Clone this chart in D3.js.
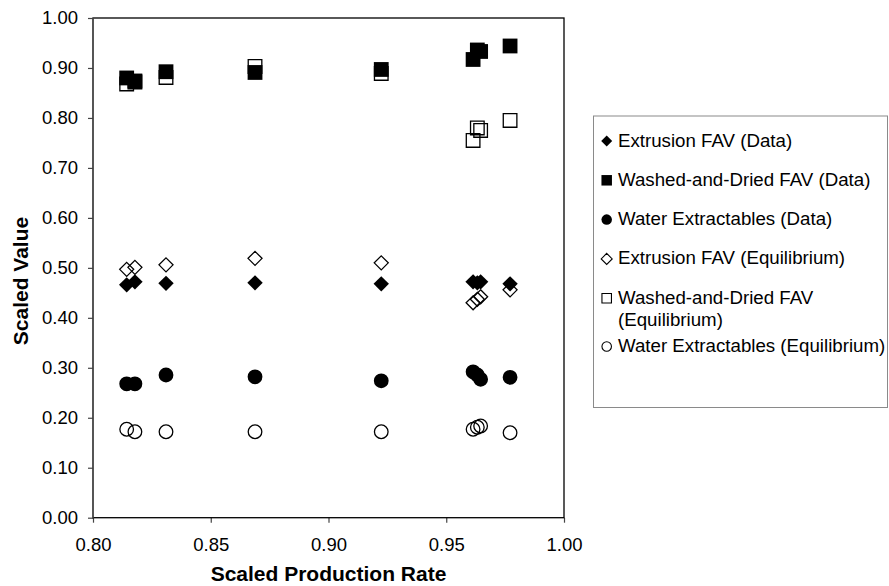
<!DOCTYPE html>
<html>
<head>
<meta charset="utf-8">
<script src="https://cdn.jsdelivr.net/npm/d3@7"></script>
<style>
  body { margin: 0; background: #fff; }
  svg { display: block; font-family: "Liberation Sans", Arial, sans-serif; }
</style>
</head>
<body>
<svg id="chart" width="889" height="586"></svg>
<script>
// scaled production rate for each run
var xValues = [0.8143, 0.8178, 0.8310, 0.8688, 0.9224, 0.9614, 0.9632, 0.9646, 0.9771]

var extrusionData = [0.466, 0.472, 0.469, 0.470, 0.468, 0.472, 0.470, 0.472, 0.468]
var washedData = [0.880, 0.874, 0.8925, 0.891, 0.897, 0.917, 0.936, 0.933, 0.944]
var waterData = [0.268, 0.268, 0.2856, 0.282, 0.274, 0.292, 0.2856, 0.277, 0.281]
var extrusionEq = [0.497, 0.501, 0.506, 0.519, 0.510, 0.430, 0.437, 0.442, 0.456]
var washedEq = [0.868, 0.872, 0.881, 0.903, 0.889, 0.755, 0.780, 0.775, 0.795]
var waterEq = [0.177, 0.172, 0.172, 0.172, 0.172, 0.177, 0.181, 0.1835, 0.170]

var seriesNames = [
    ["Extrusion FAV (Data)"],
    ["Washed-and-Dried FAV (Data)"],
    ["Water Extractables (Data)"],
    ["Extrusion FAV (Equilibrium)"],
    ["Washed-and-Dried FAV", "(Equilibrium)"],
    ["Water Extractables (Equilibrium)"]
]

var xTicks = [0.80, 0.85, 0.90, 0.95, 1.00]
var yTicks = [0.0, 0.1, 0.2, 0.3, 0.4, 0.5, 0.6, 0.7, 0.8, 0.9, 1.0]

var series = [
    { name: seriesNames[0], values: extrusionData, shape: "diamond", filled: true },
    { name: seriesNames[1], values: washedData, shape: "square", filled: true },
    { name: seriesNames[2], values: waterData, shape: "circle", filled: true },
    { name: seriesNames[3], values: extrusionEq, shape: "diamond", filled: false },
    { name: seriesNames[4], values: washedEq, shape: "square", filled: false },
    { name: seriesNames[5], values: waterEq, shape: "circle", filled: false }
]

var svg = d3.select("#chart")
var plotLeft = 93, plotRight = 564, plotTop = 18, plotBottom = 517.7

var x = d3.scaleLinear().domain([0.8, 1.0]).range([plotLeft, plotRight])
var y = d3.scaleLinear().domain([0, 1]).range([plotBottom, plotTop])

// marker path, centred on 0,0
function markerPath(shape, size) {
    var r = size / 2
    if (shape == "diamond") {
        return "M0," + (-r) + "L" + r + ",0L0," + r + "L" + (-r) + ",0Z"
    }
    if (shape == "square") {
        return "M" + (-r) + "," + (-r) + "h" + size + "v" + size + "h" + (-size) + "Z"
    }
    return d3.arc()({ innerRadius: 0, outerRadius: r, startAngle: 0, endAngle: 2 * Math.PI })
}

// axes
var yAxis = svg.append("g")
    .attr("transform", "translate(" + plotLeft + ",0)")
    .call(d3.axisLeft(y).tickValues(yTicks).tickFormat(d3.format(".2f")).tickSize(5).tickPadding(10))
var xAxis = svg.append("g")
    .attr("transform", "translate(0," + plotBottom + ")")
    .call(d3.axisBottom(x).tickValues(xTicks).tickFormat(d3.format(".2f")).tickSize(5).tickPadding(15))

svg.selectAll(".domain").remove()
svg.selectAll(".tick line").attr("stroke", "#444").attr("stroke-width", 1.2)
svg.selectAll(".tick text")
    .attr("fill", "#000")
    .style("font-size", "18.5px")
    .style("font-family", "'Liberation Sans', Arial, sans-serif")

// plot frame
svg.append("rect")
    .attr("x", plotLeft).attr("y", plotTop)
    .attr("width", plotRight - plotLeft).attr("height", plotBottom - plotTop)
    .attr("fill", "none")
    .attr("stroke", "#000")
    .attr("stroke-width", 1.3)
svg.append("line")
    .attr("x1", plotLeft).attr("x2", plotLeft).attr("y1", plotTop).attr("y2", plotBottom)
    .attr("stroke", "#555").attr("stroke-width", 1.4)

// points
series.forEach(function(s) {
    var size = s.filled ? 14.8 : 13.6
    if (s.shape == "diamond") size = s.filled ? 15.4 : 14
    svg.append("g")
        .selectAll("path")
        .data(s.values)
        .join("path")
        .attr("d", markerPath(s.shape, size))
        .attr("transform", function(d, i) {
            return "translate(" + x(xValues[i]) + "," + y(d) + ")"
        })
        .attr("fill", s.filled ? "#000" : "none")
        .attr("stroke", "#000")
        .attr("stroke-width", s.filled ? 0 : 1.3)
})

// axis titles
svg.append("text")
    .attr("x", (plotLeft + plotRight) / 2)
    .attr("y", 581)
    .attr("text-anchor", "middle")
    .style("font-size", "21px")
    .style("font-weight", "bold")
    .text("Scaled Production Rate")

svg.append("text")
    .attr("transform", "translate(27.5,281) rotate(-90)")
    .attr("text-anchor", "middle")
    .style("font-size", "21px")
    .style("font-weight", "bold")
    .text("Scaled Value")

// legend
var legend = svg.append("g")
legend.append("rect")
    .attr("x", 593.5).attr("y", 116)
    .attr("width", 294).attr("height", 291.5)
    .attr("fill", "#fff")
    .attr("stroke", "#8a8a8a")
    .attr("stroke-width", 1)

series.forEach(function(s, i) {
    var rowY = 141 + i * 39.3 + (i == 5 ? 9 : 0)
    var lsize = s.shape == "diamond" ? 11 : (s.filled ? 10.5 : 9.5)
    legend.append("path")
        .attr("d", markerPath(s.shape, lsize))
        .attr("transform", "translate(606.7," + rowY + ")")
        .attr("fill", s.filled ? "#000" : "none")
        .attr("stroke", "#000")
        .attr("stroke-width", s.filled ? 0 : 1.1)
    s.name.forEach(function(line, j) {
        legend.append("text")
            .attr("x", 618)
            .attr("y", rowY + 5.5 + j * 22.5)
            .style("font-size", "18.7px")
            .text(line)
    })
})
</script>
</body>
</html>
